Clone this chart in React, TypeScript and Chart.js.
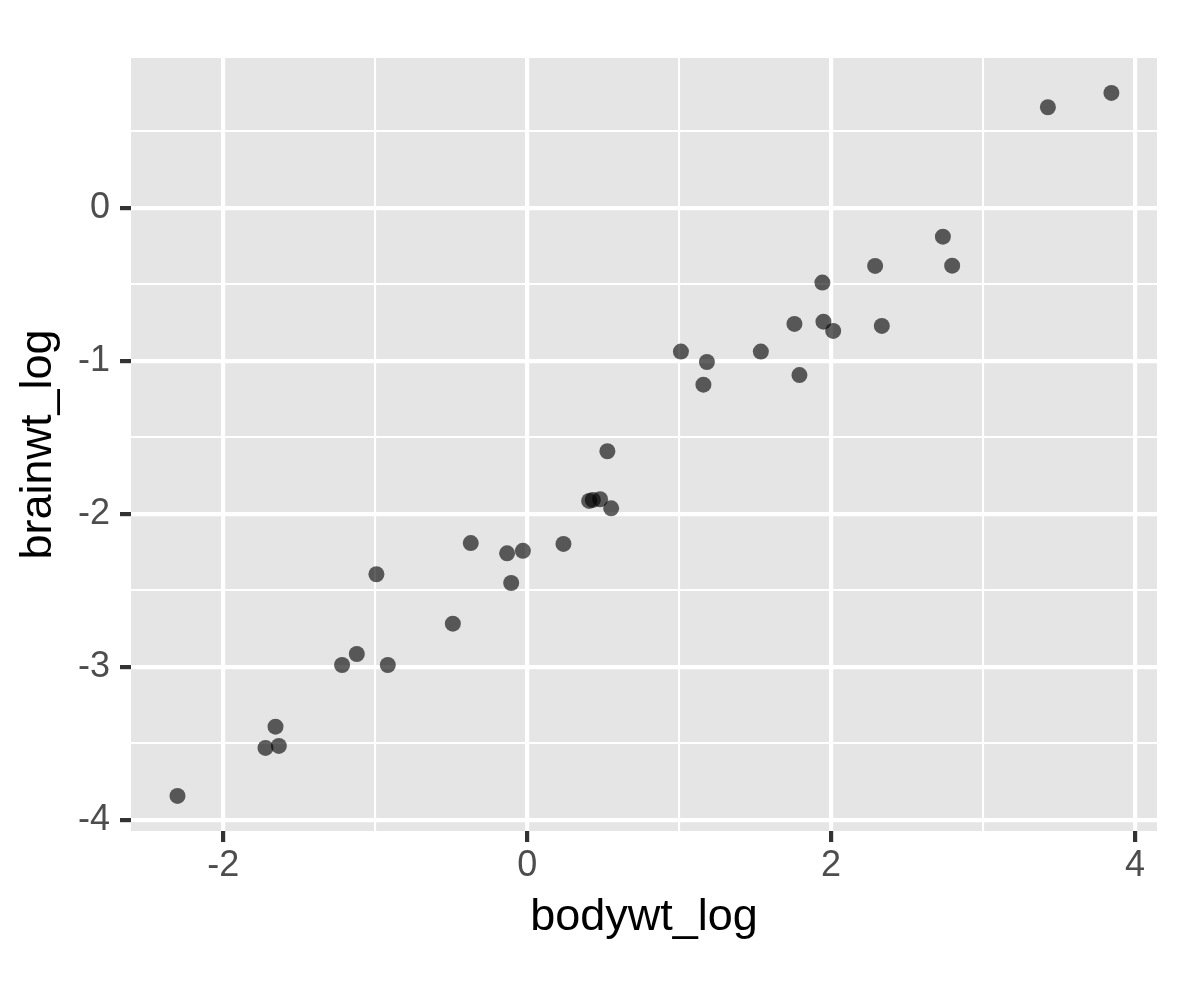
import React, { useEffect, useRef } from "react";
import { Chart, registerables } from "chart.js";

Chart.register(...registerables);

// Data
const bodywtLog = [
  -2.301, -1.722, -1.634, -1.656, -1.218, -1.121, -0.917, -0.992, -0.489, -0.371,
  -0.132, -0.028, -0.105, 0.239, 0.408, 0.432, 0.48, 0.528, 0.553, 1.012,
  1.183, 1.16, 1.538, 1.759, 1.792, 1.943, 1.95, 2.014, 2.29, 2.334,
  2.736, 2.797, 3.427, 3.845,
];
const brainwtLog = [
  -3.843, -3.529, -3.516, -3.39, -2.987, -2.915, -2.987, -2.394, -2.717, -2.19,
  -2.257, -2.241, -2.451, -2.196, -1.915, -1.908, -1.904, -1.59, -1.963, -0.939,
  -1.007, -1.155, -0.939, -0.758, -1.092, -0.488, -0.743, -0.804, -0.379, -0.771,
  -0.188, -0.377, 0.658, 0.752,
];

const xMajor = [-2, 0, 2, 4];
const xMinor = [-1, 1, 3];
const yMajor = [-4, -3, -2, -1, 0];
const yMinor = [-3.5, -2.5, -1.5, -0.5, 0.5];
const xRange = [-2.607, 4.145];
const yRange = [-4.072, 0.98];
const xTitle = "bodywt_log";
const yTitle = "brainwt_log";

const FONT = "'Liberation Sans', Arial, Helvetica, sans-serif";

const isIn = (arr: number[], v: number) => arr.some((m) => Math.abs(m - v) < 1e-9);

const panelBg = {
  id: "panelBg",
  beforeDraw(chart: any) {
    const { ctx, chartArea } = chart;
    if (!chartArea) return;
    ctx.save();
    ctx.fillStyle = "#E5E5E5";
    ctx.fillRect(chartArea.left, chartArea.top, chartArea.right - chartArea.left, chartArea.bottom - chartArea.top);
    ctx.restore();
  },
};

function makeScale(major: number[], minor: number[], range: number[], title: string, isX: boolean) {
  const all = [...major, ...minor].sort((a, b) => a - b);
  return {
    type: "linear",
    min: range[0],
    max: range[1],
    position: isX ? "bottom" : "left",
    afterBuildTicks: (scale: any) => {
      scale.ticks = all.map((v) => ({ value: v }));
    },
    afterFit: (scale: any) => {
      if (isX) scale.height = 1003 - 831;
      else scale.width = 131;
    },
    border: { display: false },
    grid: {
      color: "#FFFFFF",
      lineWidth: (ctx: any) => (ctx.tick && isIn(major, ctx.tick.value) ? 4.2 : 2.1),
      drawTicks: true,
      tickLength: 11,
      tickWidth: 4.2,
      tickColor: (ctx: any) => (ctx.tick && isIn(major, ctx.tick.value) ? "#333333" : "rgba(0,0,0,0)"),
    },
    ticks: {
      autoSkip: false,
      maxRotation: 0,
      minRotation: 0,
      color: "#4D4D4D",
      padding: isX ? 2 : 10,
      font: { family: FONT, size: 36, lineHeight: 1.2 },
      callback: (value: any) => (isIn(major, Number(value)) ? String(value) : ""),
    },
    title: {
      display: true,
      text: title,
      color: "#000000",
      font: { family: FONT, size: 45, lineHeight: 1.2 },
      padding: isX ? { top: 0, bottom: 58 } : { top: 12, bottom: 0 },
    },
  };
}

export default function App() {
  const ref = useRef<HTMLCanvasElement | null>(null);

  useEffect(() => {
    if (!ref.current) return;
    const chart = new Chart(ref.current, {
      type: "scatter",
      data: {
        datasets: [
          {
            data: bodywtLog.map((x, i) => ({ x, y: brainwtLog[i] })),
            backgroundColor: "rgba(0,0,0,0.62)",
            borderWidth: 0,
            pointRadius: 8,
            pointHoverRadius: 8,
          },
        ],
      },
      options: {
        animation: false,
        responsive: true,
        maintainAspectRatio: false,
        devicePixelRatio: 1,
        events: [],
        layout: { padding: { top: 58, right: 24, left: 0, bottom: 0 } },
        plugins: {
          legend: { display: false },
          tooltip: { enabled: false },
          title: { display: false },
        },
        scales: {
          x: makeScale(xMajor, xMinor, xRange, xTitle, true) as any,
          y: makeScale(yMajor, yMinor, yRange, yTitle, false) as any,
        },
      },
      plugins: [panelBg],
    });
    return () => chart.destroy();
  }, []);

  return (
    <div style={{ position: "fixed", left: 0, top: 0, width: 1181, height: 1003, background: "#FFFFFF" }}>
      <canvas ref={ref} />
    </div>
  );
}
